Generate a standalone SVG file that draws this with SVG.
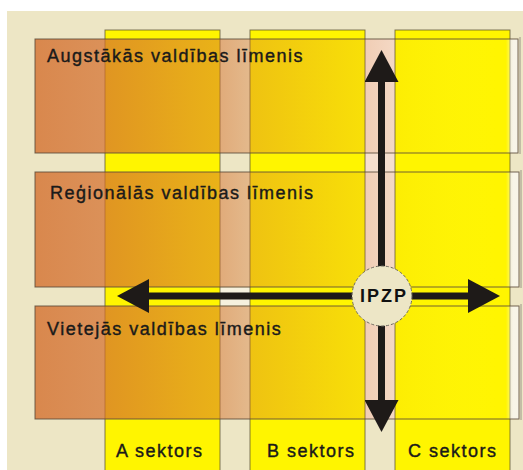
<svg xmlns="http://www.w3.org/2000/svg" width="523" height="470" viewBox="0 0 523 470">
<style>
.col{fill:#FFF500;stroke:#5a5030;stroke-opacity:0.75;stroke-width:1}
.row{fill:url(#rowg);stroke:#5b4a3a;stroke-opacity:0.85;stroke-width:1}
.shadow{fill:none;stroke:#9a9488;stroke-width:1}
.lbl{font-family:"Liberation Sans",Arial,sans-serif;font-size:18px;letter-spacing:1.5px;fill:#1a1a1a;stroke:#1a1a1a;stroke-width:0.4}
.hub{font-family:"Liberation Sans",Arial,sans-serif;font-size:18px;font-weight:bold;letter-spacing:2px;fill:#111}
.arrow{stroke:#1e1a18;stroke-width:7;fill:none;marker-start:url(#head);marker-end:url(#head)}
</style>
<defs>
<linearGradient id="rowg" gradientUnits="userSpaceOnUse" x1="35" y1="0" x2="518" y2="0">
<stop offset="0" stop-color="#D4702F" stop-opacity="0.8"/>
<stop offset="0.145" stop-color="#D4702F" stop-opacity="0.72"/>
<stop offset="0.383" stop-color="#D4702F" stop-opacity="0.5"/>
<stop offset="0.445" stop-color="#D4702F" stop-opacity="0.38"/>
<stop offset="0.683" stop-color="#D4702F" stop-opacity="0.16"/>
<stop offset="0.745" stop-color="#D4702F" stop-opacity="0.06"/>
<stop offset="0.975" stop-color="#FFFFFF" stop-opacity="0"/>
<stop offset="0.99" stop-color="#FFFFFF" stop-opacity="0.6"/>
</linearGradient>
<marker id="head" markerUnits="userSpaceOnUse" viewBox="0 0 32 34" markerWidth="32" markerHeight="34" refX="0" refY="17" orient="auto-start-reverse">
<path d="M0,0 L32,17 L0,34 Z" fill="#1e1a18"/>
</marker>
</defs>
<rect x="0" y="0" width="523" height="470" fill="#FFFFFF"/>
<rect x="7" y="11" width="516" height="459" fill="#EDE6C5"/>
<rect x="365" y="39" width="30" height="380" fill="#F6DFCE"/>
<rect x="220" y="288" width="30" height="17" fill="#F6F1DE"/>
<g id="sector-a"><rect class="col" x="105" y="30" width="115" height="445"/><text class="lbl" x="116" y="457">A sektors</text></g>
<g id="sector-b"><rect class="col" x="250" y="30" width="115" height="445"/><text class="lbl" x="267" y="457">B sektors</text></g>
<g id="sector-c"><rect class="col" x="395" y="30" width="115" height="445"/><text class="lbl" x="408" y="457">C sektors</text></g>
<g id="level-top"><rect class="row" x="35" y="39" width="483" height="114"/><line class="shadow" x1="520" y1="37" x2="520" y2="154"/><text class="lbl" x="47" y="62">Augstākās valdības līmenis</text></g>
<g id="level-regional"><rect class="row" x="35" y="172" width="484" height="115"/><line class="shadow" x1="521" y1="170" x2="521" y2="288"/><text class="lbl" x="50" y="199">Reģionālās valdības līmenis</text></g>
<g id="level-local"><rect class="row" x="35" y="306" width="484" height="113"/><line class="shadow" x1="521" y1="304" x2="521" y2="420"/><text class="lbl" x="47" y="335">Vietejās valdības līmenis</text></g>
<g id="connectors">
<line class="arrow" x1="149" y1="296" x2="468" y2="296"/>
<line class="arrow" x1="381.5" y1="82" x2="381.5" y2="400"/>
</g>
<g id="ipzp">
<circle cx="382" cy="296" r="30" fill="#EDE6C6" stroke="#6e6a60" stroke-width="1" stroke-dasharray="3,2"/>
<text class="hub" x="360" y="302">IPZP</text>
</g>
</svg>
